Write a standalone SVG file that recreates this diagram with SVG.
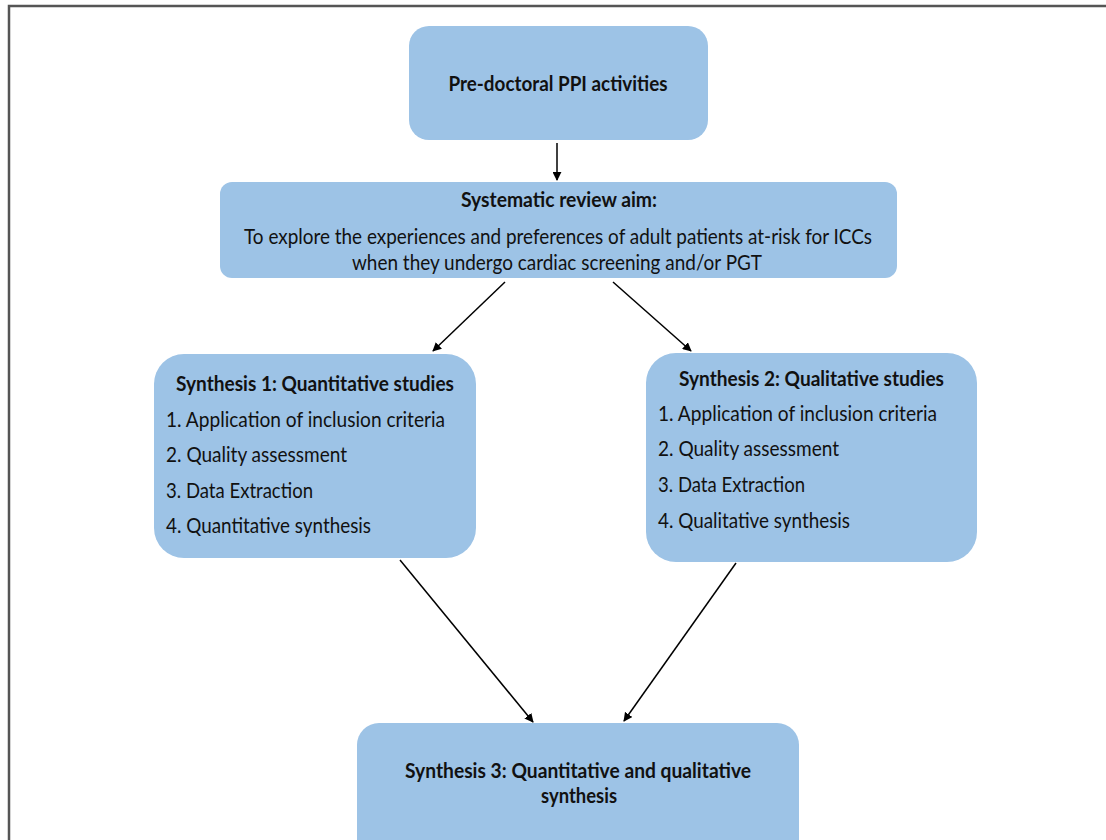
<svg xmlns="http://www.w3.org/2000/svg" width="1106" height="840" viewBox="0 0 1106 840">
  <defs>
    <marker id="arrow" viewBox="0 0 10 10" refX="9" refY="5" markerWidth="9" markerHeight="9" markerUnits="userSpaceOnUse" orient="auto">
      <path d="M0,0 L10,5 L0,10 z" fill="#000"/>
    </marker>
    <style>
      .box { fill: #9dc3e6; }
      .t { font-family: Lato, "Liberation Sans", sans-serif; font-size: 21.5px; fill: #111; }
      .b { font-weight: bold; }
      .c { text-anchor: middle; }
      .conn line { stroke: #000; stroke-width: 1.5; marker-end: url(#arrow); }
    </style>
  </defs>
  <rect width="1106" height="840" fill="#fff"/>
  <!-- outer frame -->
  <path d="M9,850 L9,6 L1110,6" fill="none" stroke="#555" stroke-width="2.5"/>

  <g id="pre-doctoral">
    <rect class="box" x="409" y="26" width="299" height="114" rx="20"/>
    <text class="t b c" x="558" y="91" textLength="219" lengthAdjust="spacingAndGlyphs">Pre-doctoral PPI activities</text>
  </g>

  <g id="review-aim">
    <rect class="box" x="220" y="182" width="677" height="96" rx="12"/>
    <text class="t b c" x="559" y="207" textLength="196" lengthAdjust="spacingAndGlyphs">Systematic review aim:</text>
    <text class="t c" x="558" y="244" textLength="628" lengthAdjust="spacingAndGlyphs">To explore the experiences and preferences of adult patients at-risk for ICCs</text>
    <text class="t c" x="557" y="270" textLength="410" lengthAdjust="spacingAndGlyphs">when they undergo cardiac screening and/or PGT</text>
  </g>

  <g id="synthesis-1">
    <rect class="box" x="154" y="354" width="322" height="204" rx="30"/>
    <text class="t b" x="176" y="391" textLength="278" lengthAdjust="spacingAndGlyphs">Synthesis 1: Quantitative studies</text>
    <text class="t" x="166" y="427" textLength="279" lengthAdjust="spacingAndGlyphs">1. Application of inclusion criteria</text>
    <text class="t" x="166" y="462" textLength="181" lengthAdjust="spacingAndGlyphs">2. Quality assessment</text>
    <text class="t" x="166" y="498" textLength="147" lengthAdjust="spacingAndGlyphs">3. Data Extraction</text>
    <text class="t" x="166" y="533" textLength="205" lengthAdjust="spacingAndGlyphs">4. Quantitative synthesis</text>
  </g>

  <g id="synthesis-2">
    <rect class="box" x="646" y="353" width="331" height="209" rx="30"/>
    <text class="t b" x="679" y="386" textLength="265" lengthAdjust="spacingAndGlyphs">Synthesis 2: Qualitative studies</text>
    <text class="t" x="658" y="421" textLength="279" lengthAdjust="spacingAndGlyphs">1. Application of inclusion criteria</text>
    <text class="t" x="658" y="456" textLength="181" lengthAdjust="spacingAndGlyphs">2. Quality assessment</text>
    <text class="t" x="658" y="492" textLength="147" lengthAdjust="spacingAndGlyphs">3. Data Extraction</text>
    <text class="t" x="658" y="528" textLength="192" lengthAdjust="spacingAndGlyphs">4. Qualitative synthesis</text>
  </g>

  <g id="synthesis-3">
    <rect class="box" x="357" y="723" width="442" height="140" rx="22"/>
    <text class="t b c" x="578" y="778" textLength="346" lengthAdjust="spacingAndGlyphs">Synthesis 3: Quantitative and qualitative</text>
    <text class="t b c" x="579" y="803" textLength="76" lengthAdjust="spacingAndGlyphs">synthesis</text>
  </g>

  <g id="connectors" class="conn">
    <line x1="557" y1="143" x2="557" y2="180"/>
    <line x1="505" y1="282" x2="433" y2="351"/>
    <line x1="613" y1="282" x2="691" y2="351"/>
    <line x1="400" y1="560" x2="533" y2="722"/>
    <line x1="736" y1="563" x2="624" y2="721"/>
  </g>
</svg>
